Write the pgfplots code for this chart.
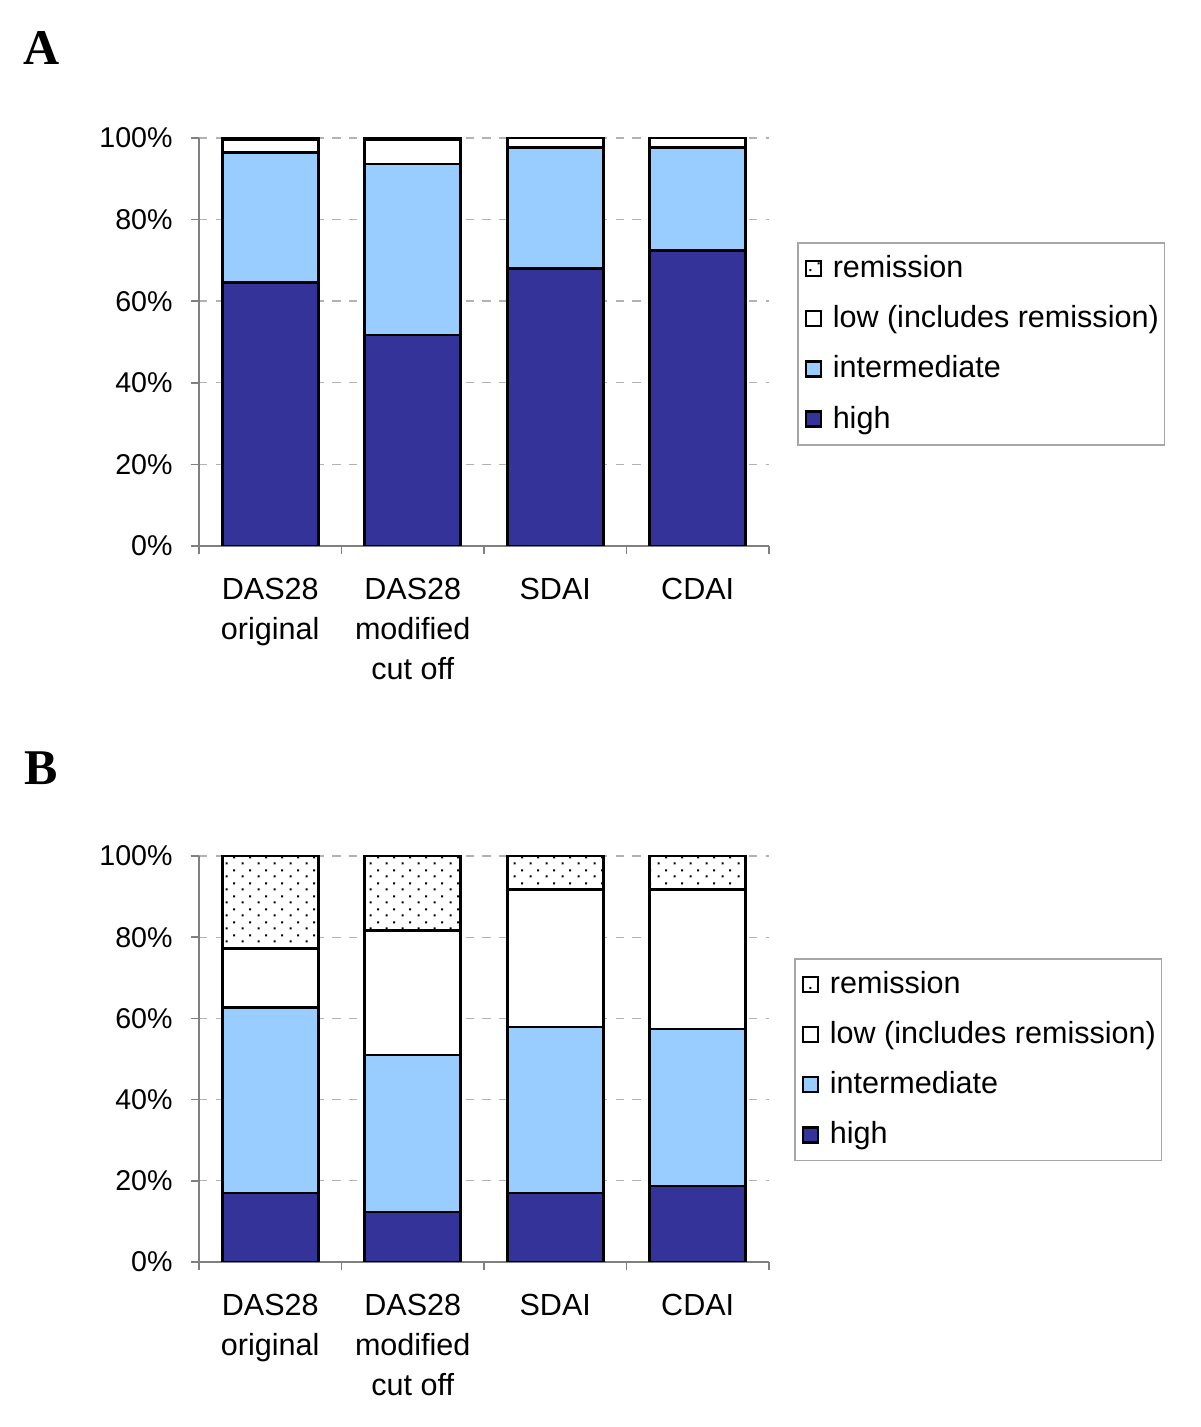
\documentclass[border=0pt]{standalone}
\usepackage{pgfplots}
\pgfplotsset{compat=1.18}
\usepackage{fontspec}
\setmainfont{Liberation Sans}
\newfontfamily\panelfont{Liberation Serif}
\usetikzlibrary{patterns}

\definecolor{hi}{HTML}{333399}
\definecolor{mid}{HTML}{99CCFF}

% sparse staggered dots, like the Excel "5%" fill
\pgfdeclarepatternformonly{sparsedots}{\pgfpointorigin}{\pgfpoint{5.76pt}{4.7pt}}{\pgfpoint{5.76pt}{4.7pt}}{%
  \pgfpathrectangle{\pgfpoint{0.6pt}{0.6pt}}{\pgfpoint{0.75pt}{0.75pt}}%
  \pgfpathrectangle{\pgfpoint{3.48pt}{2.95pt}}{\pgfpoint{0.75pt}{0.75pt}}%
  \pgfusepath{fill}}

\pgfplotsset{
  panel/.style={
    scale only axis,
    width=205.2pt,
    ybar stacked,
    bar width=34.56pt,
    ymin=0, ymax=100,
    xmin=-0.5, xmax=3.5,
    axis x line*=bottom,
    axis y line*=left,
    axis line style={gray, line width=0.6pt},
    ytick={0,20,...,100},
    yticklabel={\pgfmathprintnumber{\tick}\%},
    /pgf/number format/assume math mode=true,
    xtick={0,1,2,3},
    xticklabels={{DAS28\\original},{DAS28\\modified\\cut off},SDAI,CDAI},
    xticklabel style={align=center, yshift=-5pt, font=\fontsize{11}{14.4}\selectfont},
    yticklabel style={xshift=-3pt, font=\fontsize{10.3}{12}\selectfont},
    major x tick style={draw=none},
    minor xtick={-0.5,0.5,1.5,2.5,3.5},
    tick align=outside,
    major tick length=3pt,
    minor tick length=3pt,
    tick style={gray, line width=0.6pt},
    ymajorgrids,
    grid style={gray!60, line width=0.5pt, dash pattern=on 3pt off 3pt},
    every axis plot/.append style={draw=black, line width=1pt},
    reverse legend,
    legend cell align=left,
    legend image code/.code={%
      \pgfpathmoveto{\pgfpoint{0pt}{0pt}}\pgfpathlineto{\pgfpoint{10.6pt}{0pt}}%
      \pgfusepath{use as bounding box}%
      \draw[#1, line width=0.8pt] (3pt,-2.7pt) rectangle (8.4pt,2.7pt);},
    legend style={draw=gray!70, line width=0.6pt,
      font=\fontsize{11}{13}\selectfont,
      row sep=4.6pt, inner xsep=0pt, inner ysep=2.5pt, anchor=north west},
  },
}

\begin{document}
\begin{tikzpicture}
\path (0,0) rectangle (432pt,513.72pt);

\node[font=\panelfont\bfseries\fontsize{18}{20}\selectfont] at (14.8pt,496.4pt) {A};
\node[font=\panelfont\bfseries\fontsize{18}{20}\selectfont] at (14.8pt,237.2pt) {B};

% panel A
\begin{axis}[panel, at={(71.64pt,317.16pt)}, anchor=south west, height=146.88pt,
    legend style={at={(1.049,0.745)}}]
  \addplot[fill=hi] coordinates {(0,64.5) (1,51.7) (2,68.1) (3,72.5)};
  \addplot[fill=mid] coordinates {(0,32.0) (1,41.9) (2,29.5) (3,25.1)};
  \addplot[fill=white] coordinates {(0,3.0) (1,6.0) (2,2.4) (3,2.4)};
  \addplot[fill=white, postaction={pattern=sparsedots}] coordinates {(0,0.5) (1,0.4) (2,0) (3,0)};
  \addlegendentry{high}
  \addlegendentry{intermediate}
  \addlegendentry{low (includes remission)}
  \addlegendentry{remission}
\end{axis}

% panel B
\begin{axis}[panel, at={(71.64pt,59.4pt)}, anchor=south west, height=146.16pt,
    legend style={at={(1.044,0.749)}}]
  \addplot[fill=hi] coordinates {(0,17.0) (1,12.3) (2,17.0) (3,18.7)};
  \addplot[fill=mid] coordinates {(0,45.6) (1,38.7) (2,40.9) (3,38.7)};
  \addplot[fill=white] coordinates {(0,14.7) (1,30.6) (2,33.9) (3,34.4)};
  \addplot[fill=white, postaction={pattern=sparsedots}] coordinates {(0,22.7) (1,18.4) (2,8.2) (3,8.2)};
  \addlegendentry{high}
  \addlegendentry{intermediate}
  \addlegendentry{low (includes remission)}
  \addlegendentry{remission}
\end{axis}
\end{tikzpicture}
\end{document}
